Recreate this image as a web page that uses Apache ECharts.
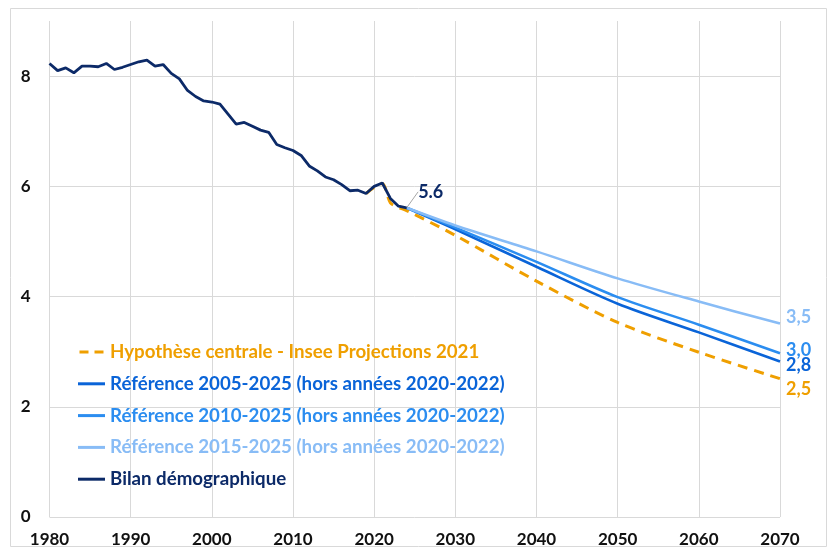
<!DOCTYPE html>
<html>
<head>
<meta charset="utf-8">
<script src="https://cdn.jsdelivr.net/npm/echarts@6/dist/echarts.min.js"></script>
<style>
  html, body { margin: 0; padding: 0; background: #fff; }
  #chart { width: 829px; height: 549px; }
</style>
</head>
<body>
<div id="chart"></div>
<script>
// historique (bilan démographique)
var histYears = [1980, 1981, 1982, 1983, 1984, 1985, 1986, 1987, 1988, 1989,
  1990, 1991, 1992, 1993, 1994, 1995, 1996, 1997, 1998, 1999,
  2000, 2001, 2002, 2003, 2004, 2005, 2006, 2007, 2008, 2009,
  2010, 2011, 2012, 2013, 2014, 2015, 2016, 2017, 2018, 2019,
  2020, 2021, 2022, 2023, 2024]
var histValues = [8.23, 8.10, 8.15, 8.06, 8.18, 8.18, 8.17, 8.23, 8.12, 8.16,
  8.21, 8.26, 8.29, 8.18, 8.21, 8.05, 7.95, 7.74, 7.63, 7.55,
  7.53, 7.49, 7.31, 7.13, 7.16, 7.09, 7.02, 6.98, 6.76, 6.70,
  6.65, 6.56, 6.37, 6.28, 6.17, 6.12, 6.03, 5.92, 5.93, 5.87,
  6.00, 6.06, 5.78, 5.64, 5.61]

// hypothèse centrale Insee 2021
var inseeYears = [2019, 2020, 2021, 2022, 2023, 2024, 2030, 2040, 2050, 2060, 2070]
var inseeValues = [5.87, 5.98, 6.05, 5.70, 5.62, 5.56, 5.11, 4.28, 3.53, 2.99, 2.51]

// projections de référence
var refYears = [2024, 2030, 2040, 2050, 2060, 2070]
var ref2005 = [5.61, 5.22, 4.54, 3.87, 3.35, 2.82]
var ref2010 = [5.61, 5.25, 4.63, 3.99, 3.49, 2.97]
var ref2015 = [5.61, 5.29, 4.82, 4.33, 3.91, 3.51]

var seriesNames = [
  'Hypothèse centrale - Insee Projections 2021',
  'Référence 2005-2025 (hors années 2020-2022)',
  'Référence 2010-2025 (hors années 2020-2022)',
  'Référence 2015-2025 (hors années 2020-2022)',
  'Bilan démographique'
]
var colors = ['#ef9f00', '#0a64d8', '#2b8df0', '#88bcf6', '#0c2a68']
var endOffsets = [[0, 11], [0, 4], [0, -3], [0, -6]]

// icones de légende : trait plein ou tirets
var solidIcon = 'path://M0,0 L27,0 L27,3 L0,3 Z'
var dashIcon = 'path://M0,0 L9,0 L9,3 L0,3 Z M15,0 L24,0 L24,3 L15,3 Z'

function pairs (xs, ys) {
  return xs.map(function (x, i) { return [x, ys[i]] })
}

function endLabel (i) {
  return {
    show: true,
    color: colors[i],
    fontFamily: 'Lato',
    fontWeight: 'bold',
    fontSize: 18,
    distance: 6,
    offset: endOffsets[i],
    formatter: function (p) {
      return p.value[1].toFixed(1).replace('.', ',')
    }
  }
}

var histData = pairs(histYears, histValues)
var lastIdx = histData.length - 1
histData[lastIdx] = {
  value: histData[lastIdx],
  symbol: 'circle',
  symbolSize: 1,
  label: {
    show: true,
    position: 'right',
    color: colors[4],
    fontFamily: 'Lato',
    fontWeight: 'bold',
    fontSize: 18,
    formatter: function (p) { return p.value[1].toFixed(1) }
  }
}

var chart = echarts.init(document.getElementById('chart'))
chart.setOption({
  animation: false,
  textStyle: { fontFamily: 'Lato' },
  graphic: [{
    type: 'rect',
    shape: { x: 10.5, y: 8.5, width: 816, height: 538 },
    style: { fill: 'none', stroke: '#d9d9d9', lineWidth: 1 },
    silent: true
  }],
  grid: { left: 49.5, right: 49, top: 21, bottom: 32 },
  legend: {
    orient: 'vertical',
    left: 78,
    top: 342,
    padding: 0,
    itemWidth: 27,
    itemHeight: 3,
    itemGap: 11.8,
    data: seriesNames.map(function (n, i) {
      return {
        name: n,
        icon: i === 0 ? dashIcon : solidIcon,
        textStyle: { color: colors[i] }
      }
    }),
    textStyle: {
      fontFamily: 'Lato',
      fontWeight: 'bold',
      fontSize: 18.7,
      lineHeight: 20
    }
  },
  xAxis: {
    type: 'value',
    min: 1980,
    max: 2070,
    interval: 10,
    axisLine: { show: false },
    axisTick: { show: false },
    splitLine: { show: true, lineStyle: { color: '#d9d9d9', width: 1 } },
    axisLabel: {
      margin: 14,
      color: '#111',
      fontFamily: 'Lato',
      fontWeight: 'bold',
      fontSize: 17,
      formatter: function (v) { return String(v) }
    }
  },
  yAxis: {
    type: 'value',
    min: 0,
    max: 9,
    interval: 2,
    axisLine: { show: false },
    axisTick: { show: false },
    splitLine: {
      show: true,
      lineStyle: { color: ['#d9d9d9', '#d9d9d9', '#d9d9d9', '#d9d9d9', '#d9d9d9', 'rgba(0,0,0,0)'], width: 1 }
    },
    axisLabel: {
      margin: 19,
      color: '#111',
      fontFamily: 'Lato',
      fontWeight: 'bold',
      fontSize: 17,
      showMaxLabel: false
    }
  },
  series: [
    {
      name: seriesNames[0],
      type: 'line',
      data: pairs(inseeYears, inseeValues),
      showSymbol: false,
      symbol: 'none',
      smooth: 0.3,
      lineStyle: { color: colors[0], width: 3, type: [10, 7] },
      itemStyle: { color: colors[0] },
      endLabel: endLabel(0)
    },
    {
      name: seriesNames[1],
      type: 'line',
      data: pairs(refYears, ref2005),
      showSymbol: false,
      symbol: 'none',
      smooth: 0.3,
      lineStyle: { color: colors[1], width: 2.6 },
      itemStyle: { color: colors[1] },
      endLabel: endLabel(1)
    },
    {
      name: seriesNames[2],
      type: 'line',
      data: pairs(refYears, ref2010),
      showSymbol: false,
      symbol: 'none',
      smooth: 0.3,
      lineStyle: { color: colors[2], width: 2.6 },
      itemStyle: { color: colors[2] },
      endLabel: endLabel(2)
    },
    {
      name: seriesNames[3],
      type: 'line',
      data: pairs(refYears, ref2015),
      showSymbol: false,
      symbol: 'none',
      smooth: 0.3,
      lineStyle: { color: colors[3], width: 2.6 },
      itemStyle: { color: colors[3] },
      endLabel: endLabel(3)
    },
    {
      name: seriesNames[4],
      type: 'line',
      data: histData,
      showSymbol: true,
      symbol: 'none',
      lineStyle: { color: colors[4], width: 2.8 },
      itemStyle: { color: colors[4] },
      labelLayout: { dx: 6, dy: -16 },
      labelLine: { show: true, lineStyle: { color: '#a6a6a6', width: 1 } }
    }
  ]
})
</script>
</body>
</html>
